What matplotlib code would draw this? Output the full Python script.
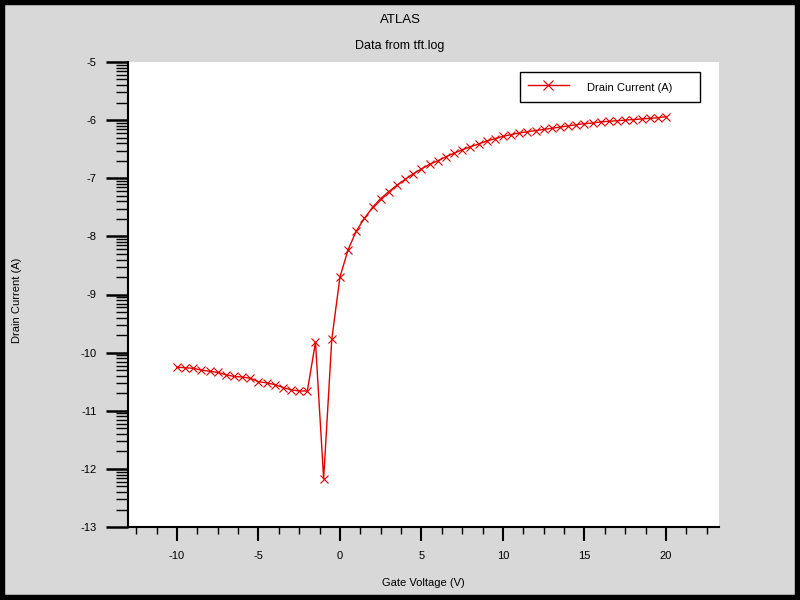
import numpy as np
import matplotlib
matplotlib.use("Agg")
import matplotlib.pyplot as plt
from matplotlib.patches import Rectangle
from matplotlib.ticker import FixedLocator

plt.rcParams['font.family'] = ['Liberation Sans', 'DejaVu Sans']
plt.rcParams['axes.unicode_minus'] = False

gate_voltage = [-10, -9.5, -9, -8.5, -8, -7.5, -7, -6.5, -6, -5.5, -5, -4.5, -4, -3.5, -3, -2.5, -2,
                -1.5, -1, -0.5, 0, 0.5, 1, 1.5, 2, 2.5, 3, 3.5, 4, 4.5,
                5, 5.5, 6, 6.5, 7, 7.5, 8, 8.5, 9, 9.5, 10, 10.5, 11, 11.5, 12, 12.5,
                13, 13.5, 14, 14.5, 15, 15.5, 16, 16.5, 17, 17.5, 18, 18.5, 19, 19.5, 20]
drain_current = [-10.25, -10.26, -10.27, -10.30, -10.32, -10.34, -10.38, -10.41, -10.42, -10.44,
                 -10.50, -10.52, -10.55, -10.60, -10.64, -10.66, -10.66,
                 -9.82, -12.17, -9.77, -8.70, -8.23, -7.91, -7.69, -7.50, -7.35, -7.23, -7.12, -7.02, -6.92,
                 -6.84, -6.76, -6.70, -6.63, -6.57, -6.51, -6.46, -6.41, -6.36, -6.32, -6.28, -6.25,
                 -6.22, -6.20, -6.18, -6.16, -6.14, -6.12, -6.10, -6.08, -6.06, -6.05, -6.03, -6.02,
                 -6.01, -6.00, -5.99, -5.98, -5.97, -5.96, -5.94]
x_major = [-10, -5, 0, 5, 10, 15, 20]
y_major = [-13, -12, -11, -10, -9, -8, -7, -6, -5]

W, H = 800, 600
fig = plt.figure(figsize=(8, 6), dpi=100, facecolor='#d8d8d8')
ax = fig.add_axes([128 / W, 1 - 527 / H, (719 - 128) / W, (527 - 62) / H])
ax.set_facecolor('white')

ax.plot(gate_voltage, drain_current, color='#e00000', lw=1.0, marker='x', ms=6, mew=0.8,
        label='Drain Current (A)')

ax.set_xlim(-13, 23.25)
ax.set_ylim(-13, -5)

for s in ['top', 'right']:
    ax.spines[s].set_visible(False)
for s in ['left', 'bottom']:
    ax.spines[s].set_linewidth(1.5)
    ax.spines[s].set_color('black')

ax.xaxis.set_major_locator(FixedLocator(x_major))
ax.xaxis.set_minor_locator(FixedLocator([v for v in np.arange(-12.5, 23, 1.25) if v not in x_major]))
ax.yaxis.set_major_locator(FixedLocator(y_major))
ax.yaxis.set_minor_locator(FixedLocator([d + np.log10(k) for d in range(-13, -5) for k in range(2, 10)]))

ax.tick_params(axis='x', which='major', direction='out', length=10, width=1.5, pad=7, labelsize=8)
ax.tick_params(axis='x', which='minor', direction='out', length=5, width=1)
ax.tick_params(axis='y', which='major', direction='out', length=15.5, width=1.8, pad=7, labelsize=8)
ax.tick_params(axis='y', which='minor', direction='out', length=9, width=1)

leg = ax.legend(loc='center left', bbox_to_anchor=(520 / W, 1 - 104 / H, 180 / W, 34 / H),
                bbox_transform=fig.transFigure, mode='expand', fancybox=False, framealpha=1,
                edgecolor='black', fontsize=8, handlelength=3.7, handletextpad=1.6,
                handleheight=1.7, borderpad=0.7, borderaxespad=0, markerscale=1.2)
leg.get_frame().set_linewidth(1.0)

fig.text(400 / W, 1 - 20 / H, 'ATLAS', ha='center', va='center', fontsize=9.5)
fig.text(400 / W, 1 - 46 / H, 'Data from tft.log', ha='center', va='center', fontsize=9)
fig.text(423 / W, 1 - 583 / H, 'Gate Voltage (V)', ha='center', va='center', fontsize=8)
fig.text(17 / W, 1 - 300 / H, 'Drain Current (A)', ha='center', va='center', fontsize=8, rotation=90)

fig.patches.append(Rectangle((0, 0), 1, 1, transform=fig.transFigure, fill=False,
                             edgecolor='black', linewidth=7.5, zorder=10))

fig.savefig('out.png', dpi=100, facecolor=fig.get_facecolor())
